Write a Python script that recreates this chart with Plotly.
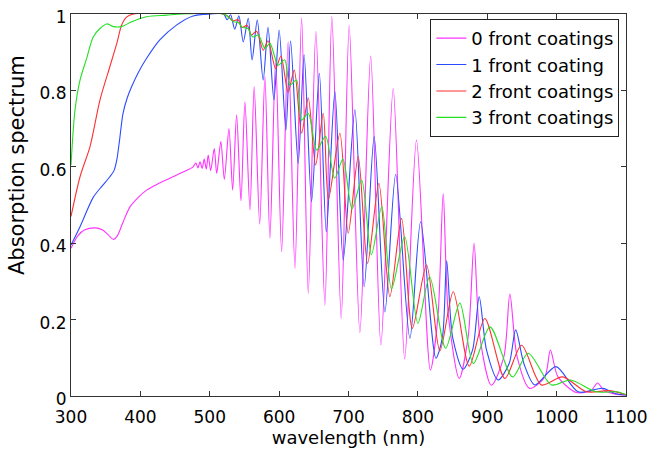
import plotly.graph_objects as go

# ---- data ----
wl_0 = [300, 310, 320, 334.6, 345, 352, 361, 367, 375, 385, 397, 409, 425, 442.6, 460, 476,
        480, 483, 486, 489, 492, 495, 497.8, 501.3, 506.5, 510, 516, 521, 527.7, 533, 538.7, 545,
        550.7, 558, 564, 572, 579.5, 586.7, 595, 603.6, 613, 622.8, 632.4, 642, 653, 666, 676,
        689.5, 701, 716.4, 732, 746.7, 764.4, 781, 798, 818, 829, 836.5, 844, 859.6, 872.5, 881,
        889.3, 906, 924, 932.6, 943, 961, 983, 991, 1002, 1028.7, 1050, 1059, 1068, 1085, 1100]
abs_0 = [0.387, 0.42, 0.435, 0.44, 0.435, 0.425, 0.41, 0.42, 0.455, 0.495, 0.52, 0.539, 0.555, 0.57, 0.585, 0.60,
         0.61, 0.597, 0.613, 0.596, 0.62, 0.594, 0.631, 0.59, 0.648, 0.583, 0.666, 0.567, 0.70, 0.539, 0.736, 0.511,
         0.77, 0.487, 0.81, 0.45, 0.836, 0.413, 0.88, 0.378, 0.927, 0.334, 0.99, 0.269, 0.954, 0.238, 0.993,
         0.203, 0.97, 0.166, 0.89, 0.134, 0.805, 0.097, 0.67, 0.068, 0.21, 0.53, 0.21, 0.046, 0.155, 0.40,
         0.155, 0.028, 0.103, 0.267, 0.103, 0.02, 0.05, 0.12, 0.05, 0.009, 0.015, 0.034, 0.015, 0.005, 0.003]

wl_1 = [300, 313, 332, 345, 356, 362, 366, 370, 375, 381, 387.5, 398, 409, 428, 452, 476, 500, 520,
        525, 530, 536, 542, 548.3, 555.5, 561, 568.5, 577, 584, 592.5, 600, 609.8, 616.5, 627.5, 636,
        646.8, 658, 668, 680.4, 692.4, 709.2, 722.6, 737, 752.5, 768, 788.5, 804, 826, 835.5, 841.5,
        850, 865, 878.8, 888.4, 899, 915.7, 931.6, 941, 952.8, 968.6, 999, 1031, 1067, 1085, 1100]
abs_1 = [0.395, 0.443, 0.52, 0.55, 0.574, 0.59, 0.618, 0.67, 0.74, 0.78, 0.81, 0.85, 0.884, 0.932, 0.971, 0.995, 1.0, 1.0,
         0.985, 0.998, 0.96, 0.995, 0.927, 0.989, 0.88, 0.984, 0.827, 0.965, 0.775, 0.958, 0.696, 0.93, 0.609, 0.893,
         0.509, 0.845, 0.43, 0.797, 0.356, 0.749, 0.286, 0.679, 0.22, 0.58, 0.151, 0.456, 0.099, 0.155, 0.354,
         0.155, 0.07, 0.12, 0.26, 0.12, 0.042, 0.085, 0.173, 0.085, 0.029, 0.077, 0.011, 0.02, 0.006, 0.003]

wl_2 = [300, 313, 327.4, 341.8, 356, 366, 373, 380, 390, 520, 529, 533, 541, 546, 554, 560, 567.5,
        577, 584, 595, 602.6, 613, 621.8, 632.4, 642, 652.6, 663.6, 671, 687.6, 699.6, 714, 727.5,
        743.8, 759.6, 776.5, 792, 812.5, 831.7, 851, 874, 896.5, 925.4, 949.4, 978, 1008.5, 1043,
        1076.5, 1100]
abs_2 = [0.47, 0.574, 0.653, 0.775, 0.862, 0.923, 0.971, 0.992, 1.0, 1.0, 0.99, 0.982, 0.985, 0.965, 0.97, 0.945, 0.955,
         0.905, 0.93, 0.857, 0.89, 0.795, 0.853, 0.688, 0.78, 0.605, 0.74, 0.515, 0.688, 0.426, 0.627, 0.347,
         0.557, 0.26, 0.465, 0.177, 0.343, 0.118, 0.273, 0.078, 0.203, 0.046, 0.133, 0.029, 0.05, 0.011,
         0.014, 0.003]

wl_3 = [300, 305.8, 313, 322.6, 332, 341.8, 351.4, 361, 373, 387.5, 409, 438, 460, 520, 528, 534,
        541, 547, 555, 562, 570, 579.5, 586.7, 598.7, 608, 615.6, 625, 632.4, 642, 654, 667, 680,
        692, 705, 719, 733, 748, 762, 781, 800, 817, 840, 860.5, 880, 904, 936.5, 959, 992.6, 1020,
        1057, 1086, 1100]
abs_3 = [0.605, 0.749, 0.827, 0.884, 0.94, 0.962, 0.974, 0.967, 0.967, 0.98, 0.993, 0.997, 1.0, 1.0, 0.99, 0.98,
         0.978, 0.965, 0.962, 0.94, 0.945, 0.91, 0.923, 0.866, 0.88, 0.814, 0.827, 0.722, 0.74, 0.644, 0.68, 0.57,
         0.62, 0.49, 0.565, 0.37, 0.496, 0.28, 0.417, 0.19, 0.312, 0.125, 0.243, 0.085, 0.181, 0.05, 0.112, 0.029, 0.042,
         0.011, 0.011, 0.004]

series_names = ["0 front coatings", "1 front coating", "2 front coatings", "3 front coatings"]
x_ticks = [300, 400, 500, 600, 700, 800, 900, 1000, 1100]
y_ticks = [0, 0.2, 0.4, 0.6, 0.8, 1]
y_tick_text = ["0", "0.2", "0.4", "0.6", "0.8", "1"]
x_title = "wavelength (nm)"
y_title = "Absorption spectrum"

colors = ["#ff33ff", "#2a4bff", "#ff3030", "#22e022"]
xs = [wl_0, wl_1, wl_2, wl_3]
ys = [abs_0, abs_1, abs_2, abs_3]

fig = go.Figure()
for name, x, y, c in zip(series_names, xs, ys, colors):
    fig.add_trace(go.Scatter(x=x, y=y, mode="lines", name=name,
                             line=dict(color=c, width=1.1, shape="spline", smoothing=0.8)))

font_family = "DejaVu Sans"
axis_common = dict(showline=True, linecolor="#333", linewidth=1, mirror="ticks",
                   ticks="inside", ticklen=5, tickcolor="#333", showgrid=False, zeroline=False,
                   automargin=False,
                   tickfont=dict(family=font_family, size=17, color="black"))

fig.update_layout(
    width=649, height=450,
    margin=dict(l=71, r=23, t=14, b=54),
    paper_bgcolor="white", plot_bgcolor="white",
    showlegend=True,
    legend=dict(x=0.988, y=0.987, xanchor="right", yanchor="top",
                bordercolor="#222", borderwidth=1, bgcolor="white",
                font=dict(family=font_family, size=18, color="black"),
                tracegroupgap=0),
    xaxis=dict(range=[300, 1100], tickvals=x_ticks, ticklabelstandoff=6,
               title=dict(text=x_title, font=dict(family=font_family, size=18, color="black"), standoff=0),
               **axis_common),
    yaxis=dict(range=[0, 1], tickvals=y_ticks, ticktext=y_tick_text, ticklabelshift=3, **axis_common),
    annotations=[dict(text=y_title, xref="paper", yref="paper", x=-0.097, y=0.605,
                      xanchor="center", yanchor="middle", textangle=-90, showarrow=False,
                      font=dict(family=font_family, size=21, color="black"))],
)

fig.write_html("out.html", config={"displayModeBar": False},
               post_script="document.body.style.margin='0';document.body.style.overflow='hidden';")
